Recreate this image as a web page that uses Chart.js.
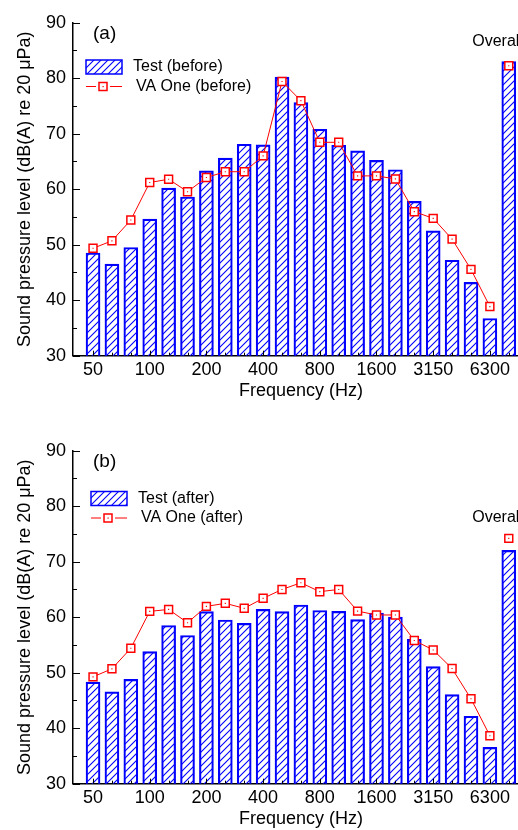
<!DOCTYPE html>
<html>
<head>
<meta charset="utf-8">
<script src="https://cdn.jsdelivr.net/npm/chart.js@4.4.1/dist/chart.umd.min.js"></script>
<style>
  html, body { margin: 0; padding: 0; background: #fff; overflow: hidden; }
  body { width: 518px; height: 830px; position: relative; }
  .panel { position: absolute; left: 0; width: 530px; height: 415px; }
</style>
</head>
<body>
<div class="panel" style="top:0"><canvas id="chartA" width="530" height="415"></canvas></div>
<div class="panel" style="top:428px"><canvas id="chartB" width="530" height="415"></canvas></div>
<script>
// 1/3 octave bands (Hz) + overall level
const bands = ['50', '63', '80', '100', '125', '160', '200', '250', '315', '400', '500', '630',
  '800', '1000', '1250', '1600', '2000', '2500', '3150', '4000', '5000', '6300', 'Overall'];
const labelEvery = 3;

const testBefore = [48.5, 46.5, 49.5, 54.6, 60.2, 58.6, 63.3, 65.6, 68.1, 68.0, 80.2, 75.6,
  70.8, 67.9, 66.9, 65.2, 63.5, 57.8, 52.5, 47.2, 43.2, 36.7, 83.0];
const vaBefore = [49.35, 50.7, 54.45, 61.2, 61.8, 59.55, 62.1, 63.15, 63.15, 66.0, 79.4, 75.95,
  68.45, 68.45, 62.4, 62.4, 61.85, 55.95, 54.75, 51.0, 45.55, 38.85, 82.25];

const testAfter = [48.3, 46.55, 48.8, 53.8, 58.5, 56.7, 61.0, 59.5, 58.9, 61.4, 61.0, 62.2,
  61.2, 61.05, 59.55, 60.75, 60.0, 56.0, 51.1, 46.05, 42.15, 36.55, 72.05];
const vaAfter = [49.25, 50.7, 54.4, 61.05, 61.4, 59.0, 61.95, 62.5, 61.6, 63.4, 65.0, 66.2,
  64.6, 65.0, 61.1, 60.4, 60.4, 55.8, 54.1, 50.75, 45.3, 38.65, 74.2];

const blue = '#0000ff';
const red = '#ff0000';
const fontFamily = '"Liberation Sans", Arial, sans-serif';
Chart.defaults.font.family = fontFamily;
Chart.defaults.color = '#000';

function makeHatch() {
  const c = document.createElement('canvas');
  c.width = c.height = 7;
  const g = c.getContext('2d');
  g.strokeStyle = blue;
  g.lineWidth = 1.1;
  g.beginPath();
  g.moveTo(0, 7); g.lineTo(7, 0);
  g.moveTo(-1, 1); g.lineTo(1, -1);
  g.moveTo(6, 8); g.lineTo(8, 6);
  g.stroke();
  return g.createPattern(c, 'repeat');
}
const hatch = makeHatch();

const toPoints = arr => arr.map((v, i) => ({ x: i, y: v }));
const lastBand = bands.length - 1;

// ticks drawn inward, like the original plot
const innerTicks = {
  id: 'innerTicks',
  afterDatasetsDraw(chart) {
    const { ctx, scales: { x, y } } = chart;
    ctx.save();
    ctx.strokeStyle = '#000';
    ctx.lineWidth = 1;
    ctx.beginPath();
    for (let v = 30; v <= 90; v += 5) {
      const py = Math.round(y.getPixelForValue(v)) + 0.5;
      ctx.moveTo(x.left, py);
      ctx.lineTo(x.left + (v % 10 === 0 ? 7 : 4), py);
    }
    bands.forEach((b, i) => {
      const px = Math.round(x.getPixelForValue(i)) + 0.5;
      const major = i % labelEvery === 0 && i < lastBand;
      ctx.moveTo(px, y.bottom);
      ctx.lineTo(px, y.bottom - (major ? 5 : 3));
    });
    ctx.stroke();
    ctx.restore();
  }
};

// panel letter, legend and "Overall" label
const annotations = {
  id: 'annotations',
  afterDraw(chart, args, opts) {
    const { ctx, scales: { x, y } } = chart;
    const lg = opts.legend;
    ctx.save();
    ctx.fillStyle = '#000';
    ctx.textBaseline = 'middle';
    ctx.font = '19px ' + fontFamily;
    ctx.fillText(opts.letter, opts.letterX, opts.letterY);

    ctx.fillStyle = hatch;
    ctx.fillRect(lg.x, lg.y, 36, 14);
    ctx.strokeStyle = blue;
    ctx.lineWidth = 1.5;
    ctx.strokeRect(lg.x, lg.y, 36, 14);

    const ly = lg.y + 26.5, mx = lg.x + 17;
    ctx.strokeStyle = red;
    ctx.lineWidth = 1;
    ctx.beginPath();
    ctx.moveTo(lg.x, ly); ctx.lineTo(mx - 7, ly);
    ctx.moveTo(mx + 7, ly); ctx.lineTo(lg.x + 36, ly);
    ctx.stroke();
    ctx.fillStyle = '#fff';
    ctx.lineWidth = 1.5;
    ctx.fillRect(mx - 4, ly - 4, 8, 8);
    ctx.strokeRect(mx - 4, ly - 4, 8, 8);
    ctx.fillStyle = red;
    ctx.fillRect(mx - 0.5, ly - 0.5, 1.2, 1.2);

    ctx.fillStyle = '#000';
    ctx.font = '16px ' + fontFamily;
    ctx.fillText(opts.labels[0], lg.x + 47, lg.y + 7);
    ctx.fillText(opts.labels[1], lg.x + 50, ly);

    const ds = chart.data.datasets;
    const top = Math.max(ds[0].data[lastBand].y, ds[1].data[lastBand].y);
    ctx.textBaseline = 'alphabetic';
    ctx.fillText(bands[lastBand], x.getPixelForValue(lastBand) - 36.5, y.getPixelForValue(top) - 16);
    ctx.restore();
  }
};

function makeChart(id, test, va, panel) {
  return new Chart(document.getElementById(id), {
    type: 'bar',
    data: {
      datasets: [
        {
          type: 'line',
          data: toPoints(va),
          borderColor: red,
          borderWidth: 1,
          pointStyle: 'rect',
          pointRadius: 5.6,
          pointBorderWidth: 1.5,
          pointBorderColor: red,
          pointBackgroundColor: '#fff',
          segment: { borderColor: c => c.p1DataIndex === lastBand ? 'rgba(0,0,0,0)' : red },
          order: 1
        },
        {
          type: 'bar',
          data: toPoints(test),
          backgroundColor: hatch,
          borderColor: blue,
          borderWidth: 1.5,
          barThickness: 14,
          order: 2
        },
        {
          type: 'line',
          data: toPoints(va),
          showLine: false,
          pointStyle: 'rect',
          pointRadius: 0.8,
          pointBorderWidth: 0,
          pointBackgroundColor: red,
          order: 0
        }
      ]
    },
    options: {
      responsive: false,
      animation: false,
      events: [],
      layout: { autoPadding: false, padding: { top: 22.7, right: 1, bottom: 0, left: 0 } },
      plugins: {
        legend: { display: false },
        tooltip: { enabled: false },
        annotations: panel
      },
      scales: {
        x: {
          type: 'linear',
          min: -1.06,
          max: 23.07,
          offset: false,
          grid: { display: true, offset: false, drawOnChartArea: false, drawTicks: false },
          border: { color: '#000', width: 1.5 },
          afterBuildTicks: s => {
            s.ticks = bands.map((b, i) => i)
              .filter(i => i % labelEvery === 0 && i < lastBand)
              .map(v => ({ value: v }));
          },
          afterFit: s => {
            s.height = 59.3;
            s.paddingLeft = 0;
            s.paddingRight = 0;
          },
          ticks: {
            autoSkip: false, maxRotation: 0, padding: 4,
            font: { size: 18 },
            callback: v => bands[v]
          },
          title: {
            display: true, text: 'Frequency (Hz)',
            font: { size: 18 }, padding: { top: 0, bottom: 13 }
          }
        },
        y: {
          min: 30,
          max: 90,
          grid: { display: true, drawOnChartArea: false, drawTicks: false },
          border: { color: '#000', width: 1.5 },
          afterFit: s => { s.width = 73; },
          ticks: { stepSize: 10, padding: 7, font: { size: 18 } },
          title: {
            display: true, text: 'Sound pressure level (dB(A) re 20 μPa)',
            font: { size: 18 }, padding: { top: 14, bottom: 0 }
          }
        }
      }
    },
    plugins: [innerTicks, annotations]
  });
}

makeChart('chartA', testBefore, vaBefore, {
  letter: '(a)', letterX: 93, letterY: 34,
  legend: { x: 86, y: 60 },
  labels: ['Test (before)', 'VA One (before)']
});
makeChart('chartB', testAfter, vaAfter, {
  letter: '(b)', letterX: 93, letterY: 34,
  legend: { x: 91, y: 63.5 },
  labels: ['Test (after)', 'VA One (after)']
});
</script>
</body>
</html>
